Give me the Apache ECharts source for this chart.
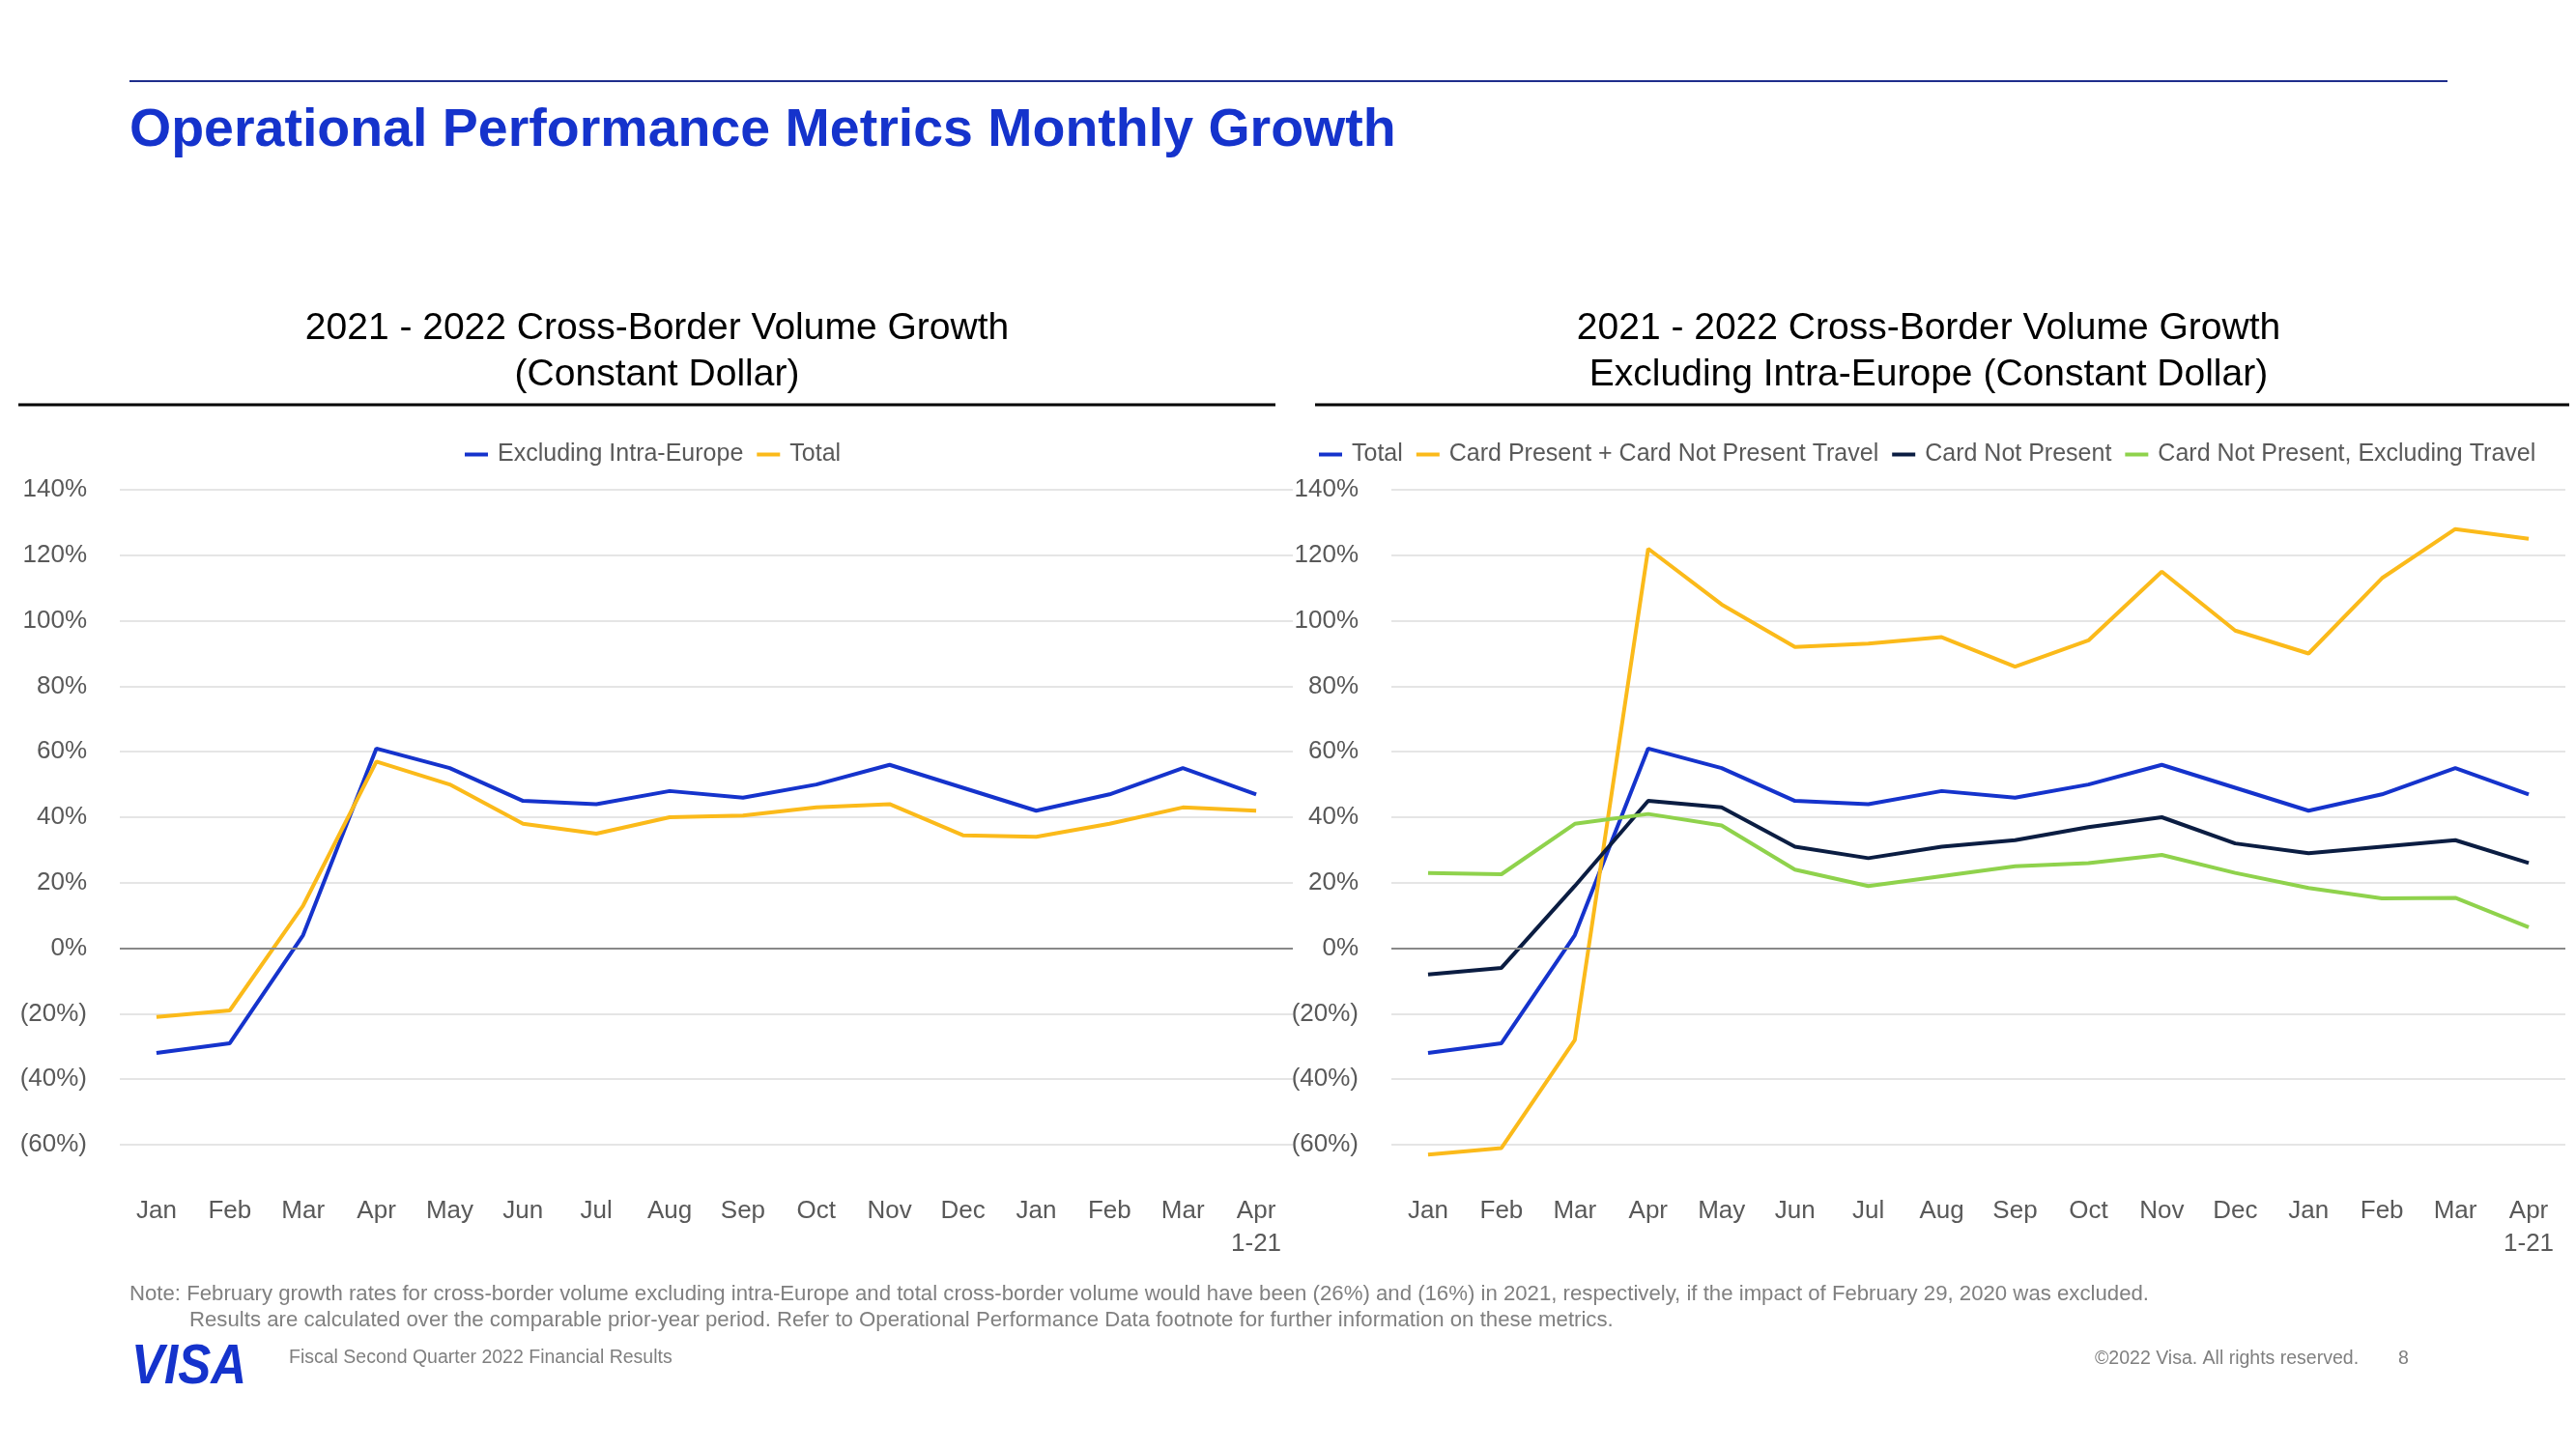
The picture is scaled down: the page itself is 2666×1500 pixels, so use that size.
<!DOCTYPE html>
<html>
<head>
<meta charset="utf-8">
<script src="https://cdn.jsdelivr.net/npm/echarts@6/dist/echarts.min.js"></script>
<style>
html,body{margin:0;padding:0;background:#fff;}
#chart{width:2666px;height:1500px;}
</style>
</head>
<body>
<div id="chart"></div>
<script>
// ---- Data ----
const months = ['Jan','Feb','Mar','Apr','May','Jun','Jul','Aug','Sep','Oct','Nov','Dec','Jan','Feb','Mar','Apr\n1-21'];
// Left chart
const exclIntraEurope = [-32,-29,4,61,55,45,44,48,46,50,56,49,42,47,55,47];
const totalCrossBorder = [-21,-19,13,57,50,38,35,40,40.5,43,44,34.5,34,38,43,42];
// Right chart (excluding intra-Europe)
const totalExEurope = [-32,-29,4,61,55,45,44,48,46,50,56,49,42,47,55,47];
const cardPresentTravel = [-63,-61,-28,122,105,92,93,95,86,94,115,97,90,113,128,125];
const cardNotPresent = [-8,-6,19,45,43,31,27.5,31,33,37,40,32,29,31,33,26];
const cnpExTravel = [23,22.6,38,41,37.5,24,19,22,25,26,28.5,23,18.4,15.2,15.4,6.4];
const yTicks = {min:-60, max:140, interval:20};

const leftLegend = ['Excluding Intra-Europe','Total'];
const rightLegend = ['Total','Card Present + Card Not Present Travel','Card Not Present','Card Not Present, Excluding Travel'];

// ---- Styles ----
const FONT = '"Liberation Sans", Arial, Helvetica, sans-serif';
const BLUE = '#1533CC', YELLOW = '#FBBA1A', NAVY = '#0B1D42', GREEN = '#8FD24C';
const GRAY = '#595959';
const rightColors = [BLUE, YELLOW, NAVY, GREEN];

const chart = echarts.init(document.getElementById('chart'));

function yAxis(gi){
  return {
    type:'value', gridIndex:gi, min:yTicks.min, max:yTicks.max, interval:yTicks.interval,
    axisLine:{show:false}, axisTick:{show:false},
    axisLabel:{color:GRAY, fontSize:26, fontFamily:FONT, margin:34, padding:[5,0,0,0],
      formatter:v => v < 0 ? '(' + (-v) + '%)' : v + '%'},
    splitLine:{lineStyle:{color:'#DCDCDC', width:1.5}}
  };
}
function xAxis(gi){
  return {
    type:'category', gridIndex:gi, data:months, boundaryGap:true,
    axisLine:{show:false}, axisTick:{show:false},
    axisLabel:{color:GRAY, fontSize:26, fontFamily:FONT, margin:52, lineHeight:34, interval:0}
  };
}
const zeroLine = {silent:true, symbol:'none', label:{show:false},
  lineStyle:{color:'#898989', width:2, type:'solid'}, data:[{yAxis:0}]};
function line(name, data, color, gi, mark){
  const s = {type:'line', name, data, xAxisIndex:gi, yAxisIndex:gi, showSymbol:false, symbol:'none',
    clip:false, lineStyle:{color, width:4}, itemStyle:{color}, z:3};
  if (mark) s.markLine = zeroLine;
  return s;
}
const legendBase = {orient:'horizontal', icon:'rect', itemWidth:24, itemHeight:4, itemGap:14,
  padding:0, textStyle:{color:GRAY, fontSize:25, fontFamily:FONT, padding:[0,0,0,5]}, selectedMode:false};

function txt(x, y, text, size, color, opts){
  return Object.assign({type:'text', x, y, silent:true,
    style:Object.assign({text, fontSize:size, fill:color, fontFamily:FONT, verticalAlign:'middle', align:'left'}, opts||{})});
}

const option = {
  animation:false,
  backgroundColor:'#fff',
  grid:[
    {left:124, right:2666-1338, top:507, bottom:1500-1185},
    {left:1440, right:11, top:507, bottom:1500-1185}
  ],
  xAxis:[xAxis(0), xAxis(1)],
  yAxis:[yAxis(0), yAxis(1)],
  legend:[
    Object.assign({}, legendBase, {left:481, top:458, data:leftLegend}),
    Object.assign({}, legendBase, {left:1365, top:458, itemGap:14,
      data:rightLegend.map((n, i) => ({name:n, itemStyle:{color:rightColors[i]}, lineStyle:{color:rightColors[i]}}))})
  ],
  series:[
    line('Excluding Intra-Europe', exclIntraEurope, BLUE, 0, true),
    line('Total', totalCrossBorder, YELLOW, 0),
    line('Total', totalExEurope, BLUE, 1, true),
    line('Card Present + Card Not Present Travel', cardPresentTravel, YELLOW, 1),
    line('Card Not Present', cardNotPresent, NAVY, 1),
    line('Card Not Present, Excluding Travel', cnpExTravel, GREEN, 1)
  ],
  graphic:[
    {type:'line', silent:true, shape:{x1:134, y1:84, x2:2533, y2:84}, style:{stroke:'#1F2E8C', lineWidth:2}},
    txt(134, 136, 'Operational Performance Metrics Monthly Growth', 55.5, '#1533CC', {fontWeight:'bold'}),
    txt(680, 340, '2021 - 2022 Cross-Border Volume Growth', 39, '#000', {align:'center'}),
    txt(680, 388, '(Constant Dollar)', 39, '#000', {align:'center'}),
    {type:'line', silent:true, shape:{x1:19, y1:419, x2:1320, y2:419}, style:{stroke:'#000', lineWidth:3}},
    txt(1996, 340, '2021 - 2022 Cross-Border Volume Growth', 39, '#000', {align:'center'}),
    txt(1996, 388, 'Excluding Intra-Europe (Constant Dollar)', 39, '#000', {align:'center'}),
    {type:'line', silent:true, shape:{x1:1361, y1:419, x2:2659, y2:419}, style:{stroke:'#000', lineWidth:3}},
    txt(134, 1340, 'Note: February growth rates for cross-border volume excluding intra-Europe and total cross-border volume would have been (26%) and (16%) in 2021, respectively, if the impact of February 29, 2020 was excluded.', 22.2, '#808080'),
    txt(196, 1367, 'Results are calculated over the comparable prior-year period. Refer to Operational Performance Data footnote for further information on these metrics.', 22.2, '#808080'),
    {type:'text', x:136, y:1416, scaleX:0.88, silent:true, style:{text:'VISA', fontSize:58, fontWeight:'bold', fontStyle:'italic', fill:'#1533CC', fontFamily:FONT, verticalAlign:'middle', align:'left'}},
    txt(299, 1406, 'Fiscal Second Quarter 2022 Financial Results', 19.5, '#7F7F7F'),
    txt(2168, 1407, '\u00A92022 Visa. All rights reserved.', 19.5, '#7F7F7F'),
    txt(2482, 1407, '8', 19.5, '#7F7F7F')
  ]
};
chart.setOption(option);
</script>
</body>
</html>
